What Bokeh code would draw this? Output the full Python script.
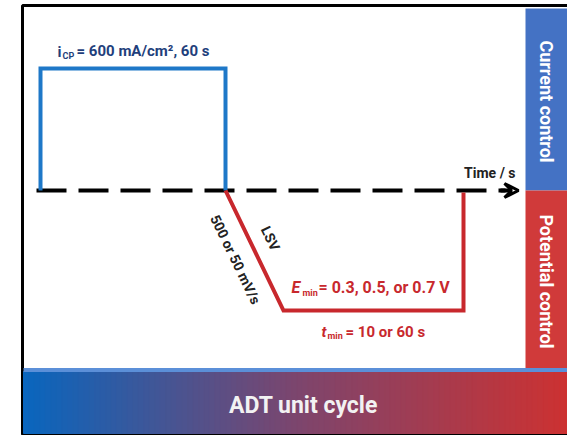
import math
from bokeh.plotting import figure
from bokeh.models import Range1d, Arrow, VeeHead
from bokeh.core.properties import value
from bokeh.embed import file_html
from bokeh.resources import INLINE

# ---- schematic data (diagram units: x = time position, y = signal level, y grows downward) ----
cp_time = [40, 40, 225, 225]
cp_level = [190, 68, 68, 190]
pc_time = [225, 283, 463, 463]
pc_level = [190, 310, 310, 192]
axis_time = [36, 505]
axis_level = [190, 190]
section_labels = ["Current control", "Potential control"]
section_top = [8, 190]
section_bottom = [190, 368]
section_colors = ["#4472c4", "#d03a3a"]
cycle_label = "ADT unit cycle"

F = value("Roboto")

p = figure(width=567, height=435, output_backend="svg", toolbar_location=None,
           x_range=Range1d(0, 567), y_range=Range1d(435, 0), min_border=0)
p.axis.visible = False
p.grid.visible = False
p.outline_line_color = None
p.background_fill_color = "white"
p.border_fill_color = "white"

# frame
p.quad(left=[22], right=[570], top=[5], bottom=[434], fill_color="white",
       line_color="black", line_width=3)

# right section bars
p.quad(left=[525, 525], right=[570, 570], top=section_top, bottom=section_bottom,
       fill_color=section_colors, line_color=None)
for lab, t, b in zip(section_labels, section_top, section_bottom):
    p.text(x=[546], y=[(t + b) / 2 + 2], text=[lab], angle=-math.pi / 2,
           text_align="center", text_baseline="middle", text_color="white",
           text_font=F, text_font_style="bold", text_font_size="18px")

# bottom gradient band
n = 100
x0, x1 = 23, 570
c0 = (10, 102, 190)
cm = (125, 70, 110)
c1 = (205, 50, 50)
lefts, rights, cols = [], [], []
for i in range(n):
    f = i / (n - 1)
    if f < 0.5:
        g = f / 0.5
        c = tuple(int(c0[k] + (cm[k] - c0[k]) * g) for k in range(3))
    else:
        g = (f - 0.5) / 0.5
        c = tuple(int(cm[k] + (c1[k] - cm[k]) * g) for k in range(3))
    lefts.append(x0 + (x1 - x0) * i / n)
    rights.append(x0 + (x1 - x0) * (i + 1) / n + 1)
    cols.append("#%02x%02x%02x" % c)
p.quad(left=lefts, right=rights, top=[371] * n, bottom=[433] * n, fill_color=cols,
       line_color=cols, line_width=1)
p.quad(left=[23], right=[570], top=[367.5], bottom=[371.5], fill_color="#5b8fd8", line_color=None)
p.text(x=[303], y=[405], text=[cycle_label], text_align="center", text_baseline="middle",
       text_color="#f2f2f2", text_font=F, text_font_style="bold", text_font_size="23px")

# time axis (dashed) with arrow
p.line(axis_time, axis_level, line_color="black", line_width=4, line_dash="30 12")
p.add_layout(Arrow(end=VeeHead(size=14, line_color="black", line_width=3, fill_color="white", fill_alpha=0),
                   x_start=500, y_start=190, x_end=518, y_end=190, line_color="black", line_width=4))
p.text(x=[515], y=[172], text=["Time / s"], text_align="right", text_baseline="middle",
       text_color="#222222", text_font=F, text_font_style="bold", text_font_size="14px")

# current control waveform
p.line(cp_time, cp_level, line_color="#1e78c8", line_width=4, line_join="miter")
blue_t = "#1f3f7c"
p.text(x=[57], y=[51], text=["i"], text_align="left", text_baseline="middle",
       text_color=blue_t, text_font=F, text_font_style="bold", text_font_size="15px")
p.text(x=[62], y=[55], text=["CP"], text_align="left", text_baseline="middle",
       text_color=blue_t, text_font=F, text_font_style="bold", text_font_size="9px")
p.text(x=[76], y=[50], text=["= 600 mA/cm², 60 s"], text_align="left", text_baseline="middle",
       text_color=blue_t, text_font=F, text_font_style="bold", text_font_size="15px")

# potential control waveform
p.line(pc_time, pc_level, line_color="#c8282d", line_width=4, line_join="miter")
ang = -math.atan2(pc_level[1] - pc_level[0], pc_time[1] - pc_time[0])
p.text(x=[270], y=[238], text=["LSV"], angle=ang, text_align="center", text_baseline="middle",
       text_color="#222222", text_font=F, text_font_style="bold", text_font_size="14px")
p.text(x=[235], y=[259], text=["500 or 50 mV/s"], angle=ang, text_align="center", text_baseline="middle",
       text_color="#222222", text_font=F, text_font_style="bold", text_font_size="14px")

red_t = "#c8282d"
p.text(x=[291], y=[287], text=["E"], text_align="left", text_baseline="middle",
       text_color=red_t, text_font=F, text_font_style="bold italic", text_font_size="16px")
p.text(x=[302], y=[292], text=["min"], text_align="left", text_baseline="middle",
       text_color=red_t, text_font=F, text_font_style="bold", text_font_size="9px")
p.text(x=[318], y=[287], text=["= 0.3, 0.5, or 0.7 V"], text_align="left", text_baseline="middle",
       text_color=red_t, text_font=F, text_font_style="bold", text_font_size="16px")
p.text(x=[321], y=[331], text=["t"], text_align="left", text_baseline="middle",
       text_color=red_t, text_font=F, text_font_style="bold italic", text_font_size="15px")
p.text(x=[327], y=[335], text=["min"], text_align="left", text_baseline="middle",
       text_color=red_t, text_font=F, text_font_style="bold", text_font_size="9px")
p.text(x=[345], y=[331], text=["= 10 or 60 s"], text_align="left", text_baseline="middle",
       text_color=red_t, text_font=F, text_font_style="bold", text_font_size="15px")

open("out.html", "w").write(file_html(p, INLINE))
